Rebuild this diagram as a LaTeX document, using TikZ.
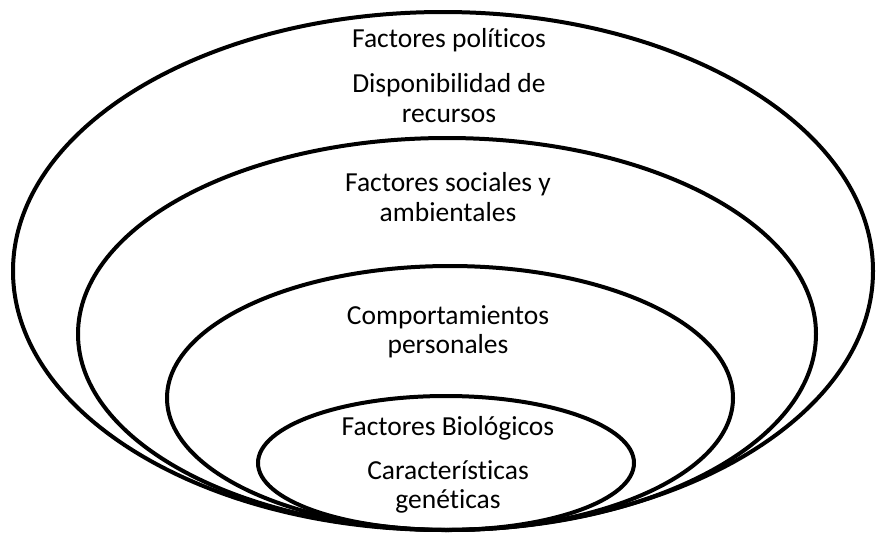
\documentclass[tikz,border=0pt]{standalone}
\usepackage{fontspec}
\setmainfont[Ligatures=NoCommon]{Carlito}
\usepackage{tikz}

\tikzset{ring/.style={line width=4pt,color=black},
  lbl/.style={font=\fontsize{27.5}{29.5}\selectfont,align=center,inner sep=0pt}}

\begin{document}
\begin{tikzpicture}[x=1pt,y=-1pt]
\useasboundingbox (0,0) rectangle (876,533);
\draw[ring] (443,271) ellipse (430 and 259);
\draw[ring] (447,334) ellipse (369 and 196);
\draw[ring] (450,398) ellipse (283 and 132);
\draw[ring] (446,463) ellipse (188 and 67);
\node[lbl] (politicos) at (449,40) {Factores políticos};
\node[lbl] (recursos) at (449,98) {Disponibilidad de\\recursos};
\node[lbl] (sociales) at (448,197) {Factores sociales y\\ambientales};
\node[lbl] (personales) at (448,332) {Comportamientos\\personales};
\node[lbl] (biologicos) at (448,428) {Factores Biológicos};
\node[lbl] (geneticas) at (448,487) {Características\\genéticas};
\end{tikzpicture}
\end{document}
